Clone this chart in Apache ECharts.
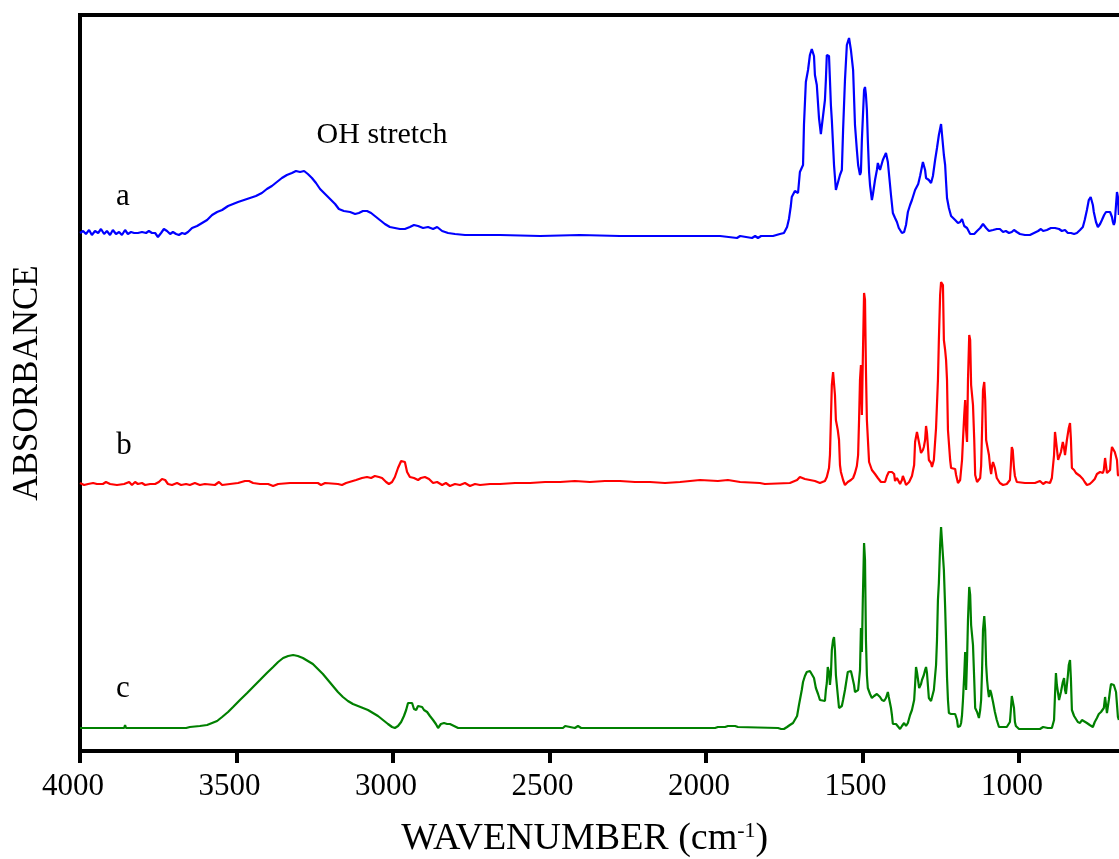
<!DOCTYPE html>
<html>
<head>
<meta charset="utf-8">
<script src="https://cdn.jsdelivr.net/npm/echarts@6/dist/echarts.min.js"></script>
<style>
  html, body { margin: 0; padding: 0; background: #fff; }
  #chart { width: 1119px; height: 859px; }
</style>
</head>
<body>
<div id="chart"></div>
<script>
// FTIR absorbance spectra, [wavenumber (cm-1), absorbance above own baseline]
const spectrumA = [
  [4000,0.03],[3990,0.05],[3981,0.02],[3971,0.06],[3962,0.01],[3952,0.05],[3942,0.03],[3933,0.07],
  [3923,0.02],[3914,0.05],[3904,0.01],[3895,0.06],[3885,0.02],[3875,0.04],[3866,0.01],[3856,0.06],
  [3847,0.02],[3837,0.04],[3827,0.03],[3815,0.03],[3802,0.04],[3789,0.03],[3780,0.05],[3770,0.03],
  [3760,0.03],[3751,-0.01],[3741,0.03],[3732,0.07],[3722,0.05],[3712,0.02],[3703,0.04],[3693,0.02],
  [3684,0.01],[3674,0.03],[3665,0.02],[3655,0.04],[3642,0.08],[3626,0.10],[3610,0.13],[3594,0.16],
  [3578,0.21],[3562,0.24],[3546,0.26],[3527,0.30],[3511,0.32],[3495,0.34],[3476,0.36],[3457,0.38],
  [3438,0.40],[3419,0.43],[3403,0.47],[3387,0.50],[3371,0.54],[3355,0.58],[3339,0.61],[3323,0.63],
  [3310,0.65],[3297,0.64],[3284,0.65],[3272,0.62],[3259,0.58],[3246,0.53],[3233,0.47],[3217,0.42],
  [3201,0.37],[3185,0.32],[3173,0.27],[3157,0.25],[3137,0.24],[3121,0.22],[3109,0.23],[3096,0.25],
  [3083,0.25],[3070,0.23],[3058,0.20],[3042,0.16],[3026,0.12],[3010,0.09],[2994,0.08],[2978,0.07],
  [2962,0.07],[2946,0.09],[2933,0.11],[2920,0.10],[2904,0.08],[2888,0.09],[2872,0.07],[2859,0.09],
  [2843,0.05],[2824,0.03],[2802,0.02],[2770,0.01],[2658,0.01],[2530,0.00],[2403,0.01],[2275,0.00],
  [2147,0.00],[2051,0.00],[2019,0.00],[1955,0.00],[1901,-0.02],[1891,0.00],[1853,-0.02],[1843,0.00],
  [1834,-0.02],[1824,0.00],[1786,0.00],[1764,0.02],[1751,0.03],[1741,0.09],[1735,0.17],[1729,0.30],
  [1726,0.39],[1716,0.45],[1706,0.43],[1700,0.64],[1690,0.71],[1687,1.11],[1681,1.54],[1674,1.66],
  [1668,1.81],[1662,1.87],[1655,1.80],[1652,1.61],[1646,1.51],[1639,1.18],[1633,1.02],[1627,1.02],
  [1620,1.36],[1617,1.56],[1614,1.81],[1607,1.80],[1604,1.56],[1601,1.31],[1598,1.16],[1591,0.71],
  [1585,0.46],[1579,0.45],[1572,0.61],[1566,0.66],[1562,1.06],[1556,1.56],[1550,1.91],[1543,1.98],
  [1540,1.98],[1537,1.86],[1530,1.66],[1524,1.11],[1518,0.86],[1514,0.71],[1508,0.61],[1505,0.64],
  [1502,0.96],[1495,1.46],[1492,1.49],[1489,1.41],[1486,1.26],[1483,0.96],[1479,0.64],[1476,0.51],
  [1470,0.36],[1467,0.41],[1460,0.56],[1454,0.66],[1451,0.73],[1444,0.66],[1441,0.68],[1435,0.76],
  [1425,0.83],[1419,0.74],[1412,0.51],[1409,0.41],[1403,0.23],[1396,0.18],[1390,0.14],[1384,0.08],
  [1374,0.03],[1367,0.04],[1361,0.11],[1355,0.24],[1348,0.31],[1342,0.36],[1332,0.46],[1322,0.52],
  [1316,0.60],[1307,0.74],[1300,0.66],[1297,0.58],[1288,0.56],[1281,0.53],[1275,0.60],[1268,0.76],
  [1262,0.88],[1256,1.01],[1249,1.12],[1246,1.14],[1243,1.10],[1240,0.81],[1236,0.71],[1233,0.54],
  [1230,0.38],[1224,0.28],[1217,0.20],[1211,0.19],[1204,0.16],[1195,0.13],[1188,0.14],[1182,0.17],
  [1175,0.10],[1166,0.08],[1156,0.02],[1143,0.02],[1134,0.05],[1124,0.08],[1115,0.12],[1105,0.08],
  [1096,0.05],[1083,0.06],[1071,0.07],[1061,0.07],[1051,0.04],[1042,0.05],[1032,0.03],[1023,0.04],
  [1016,0.06],[1007,0.04],[997,0.02],[981,0.01],[965,0.01],[952,0.03],[939,0.05],[930,0.07],
  [923,0.05],[911,0.06],[898,0.08],[885,0.08],[872,0.07],[863,0.05],[853,0.06],[844,0.03],
  [834,0.03],[824,0.02],[815,0.03],[805,0.06],[796,0.09],[790,0.16],[783,0.26],[777,0.36],
  [771,0.39],[764,0.31],[761,0.24],[754,0.14],[748,0.09],[741,0.12],[735,0.16],[728,0.21],
  [722,0.24],[716,0.26],[709,0.24],[703,0.19],[700,0.14],[697,0.11],[694,0.14],[690,0.31],
  [687,0.44],[684,0.39],[681,0.21]
];

const spectrumB = [
  [4000,0.01],[3987,-0.01],[3974,0],[3958,0.01],[3946,0],[3927,0],[3917,0.02],[3904,0],
  [3882,-0.01],[3859,0],[3853,-0.02],[3843,0.02],[3834,-0.01],[3824,0.02],[3815,0],[3802,0.01],
  [3792,-0.01],[3776,0],[3760,0],[3748,0.02],[3738,0.05],[3728,0.04],[3719,0],[3706,-0.01],
  [3690,0.01],[3677,-0.01],[3661,0],[3649,-0.01],[3633,0.01],[3617,-0.01],[3601,0],[3569,-0.01],
  [3556,0.02],[3546,-0.01],[3521,0],[3495,0.01],[3473,0.03],[3460,0.03],[3447,0.01],[3425,0],
  [3399,0],[3383,-0.02],[3367,0],[3329,0.01],[3281,0.01],[3240,0.01],[3230,-0.01],[3217,0.01],
  [3176,0],[3163,-0.01],[3150,0.01],[3118,0.04],[3099,0.06],[3083,0.07],[3070,0.06],[3058,0.08],
  [3045,0.07],[3035,0.06],[3022,0.02],[3013,0],[3003,0.02],[2994,0.07],[2984,0.16],[2974,0.23],
  [2968,0.25],[2962,0.22],[2955,0.12],[2946,0.07],[2933,0.06],[2920,0.04],[2911,0.06],[2898,0.07],
  [2885,0.05],[2872,0.01],[2859,0.02],[2843,-0.01],[2831,0.01],[2818,-0.02],[2802,0],[2786,-0.01],
  [2770,0.01],[2754,-0.02],[2738,0],[2722,-0.01],[2690,0],[2658,0],[2610,0.01],[2562,0.01],
  [2514,0.02],[2466,0.02],[2419,0.03],[2371,0.02],[2323,0.03],[2275,0.03],[2227,0.02],[2179,0.02],
  [2131,0.01],[2083,0.02],[2051,0.03],[2019,0.04],[1962,0.03],[1930,0.04],[1891,0.02],[1828,0.01],
  [1812,0],[1732,0.01],[1709,0.04],[1700,0.07],[1684,0.05],[1668,0.04],[1652,0.03],[1636,0.01],
  [1630,0],[1620,0.03],[1614,0.07],[1607,0.16],[1604,0.29],[1601,0.64],[1598,0.99],[1594,1.12],
  [1591,1.14],[1588,0.89],[1585,0.64],[1579,0.54],[1575,0.44],[1572,0.19],[1569,0.12],[1562,0.04],
  [1556,-0.01],[1547,0.02],[1537,0.04],[1530,0.06],[1524,0.11],[1518,0.18],[1514,0.29],[1511,0.64],
  [1508,1.04],[1505,1.19],[1502,0.69],[1499,1.24],[1495,1.91],[1492,1.84],[1489,1.14],[1486,0.64],
  [1479,0.22],[1470,0.14],[1460,0.10],[1451,0.06],[1441,0.02],[1435,0],[1428,0.02],[1422,0.08],
  [1416,0.12],[1406,0.12],[1399,0.10],[1396,0.03],[1390,0.06],[1384,0.06],[1380,0],[1374,0.04],
  [1371,0.08],[1364,0.02],[1361,-0.01],[1351,0.02],[1342,0.08],[1335,0.19],[1332,0.42],[1326,0.52],
  [1322,0.54],[1316,0.36],[1313,0.31],[1307,0.34],[1304,0.37],[1300,0.44],[1297,0.58],[1294,0.51],
  [1288,0.24],[1281,0.21],[1278,0.17],[1272,0.24],[1265,0.56],[1259,1.04],[1256,1.44],[1252,1.89],
  [1249,2.02],[1246,2.02],[1243,1.99],[1240,1.44],[1236,1.34],[1233,1.24],[1230,1.04],[1227,0.54],
  [1220,0.24],[1217,0.16],[1211,0.14],[1204,0.15],[1201,0.09],[1195,0.01],[1188,0.04],[1185,0.06],
  [1182,0.24],[1179,0.44],[1175,0.69],[1172,0.84],[1169,0.54],[1166,0.42],[1163,1.04],[1159,1.49],
  [1156,1.44],[1153,0.99],[1147,0.79],[1143,0.44],[1140,0.09],[1134,0.02],[1131,0],[1124,0.06],
  [1121,0.18],[1118,0.54],[1115,0.94],[1111,1.02],[1108,0.84],[1105,0.44],[1099,0.34],[1096,0.29],
  [1092,0.16],[1089,0.10],[1086,0.18],[1083,0.22],[1080,0.21],[1077,0.16],[1071,0.06],[1061,0.01],
  [1051,-0.01],[1039,0],[1029,0.04],[1026,0.19],[1023,0.37],[1020,0.34],[1016,0.16],[1013,0.08],
  [1007,0.02],[981,0.01],[949,0.01],[933,0.03],[923,0],[914,0.02],[901,0.01],[895,0.06],
  [888,0.29],[885,0.52],[882,0.44],[875,0.24],[872,0.22],[866,0.32],[863,0.34],[860,0.42],
  [856,0.36],[853,0.29],[847,0.44],[841,0.56],[837,0.61],[834,0.44],[831,0.16],[824,0.14],
  [818,0.11],[812,0.10],[805,0.08],[796,0.05],[790,0.02],[783,-0.01],[774,0],[767,0.02],
  [758,0.05],[751,0.10],[741,0.12],[735,0.13],[732,0.11],[729,0.14],[725,0.26],[722,0.24],
  [719,0.11],[713,0.10],[709,0.14],[706,0.29],[703,0.37],[697,0.35],[694,0.32],[687,0.24],
  [684,0.09],[681,0.08]
];

const spectrumC = [
  [4000,0],[3872,0],[3859,0],[3856,0.03],[3853,0],[3712,0],[3661,0],[3649,0.01],
  [3617,0.02],[3594,0.03],[3578,0.05],[3562,0.07],[3546,0.11],[3527,0.16],[3511,0.21],[3489,0.28],
  [3466,0.35],[3444,0.42],[3425,0.48],[3403,0.55],[3383,0.61],[3367,0.66],[3351,0.70],[3335,0.72],
  [3319,0.73],[3304,0.72],[3288,0.70],[3272,0.67],[3256,0.64],[3240,0.59],[3224,0.54],[3208,0.48],
  [3192,0.42],[3176,0.36],[3160,0.31],[3144,0.27],[3128,0.24],[3112,0.22],[3096,0.20],[3080,0.18],
  [3064,0.15],[3048,0.12],[3032,0.08],[3016,0.04],[3003,0.01],[2994,0],[2984,0.02],[2974,0.06],
  [2965,0.12],[2958,0.18],[2952,0.25],[2946,0.27],[2939,0.25],[2933,0.19],[2926,0.18],[2920,0.22],
  [2914,0.23],[2907,0.21],[2901,0.18],[2891,0.16],[2882,0.12],[2872,0.08],[2863,0.04],[2856,0],
  [2847,0.04],[2837,0.05],[2827,0.04],[2818,0.04],[2805,0.02],[2792,0],[2658,0],[2530,0],
  [2457,0],[2450,0.02],[2444,0],[2419,0],[2409,0.02],[2399,0],[2179,0],[2051,0],
  [2045,0.02],[2038,0],[1971,0],[1962,0.01],[1939,0.01],[1930,0.02],[1907,0.02],[1898,0.01],
  [1770,0],[1760,-0.01],[1751,-0.01],[1741,0.01],[1732,0.03],[1722,0.05],[1716,0.07],[1709,0.12],
  [1703,0.23],[1700,0.28],[1694,0.38],[1690,0.46],[1684,0.52],[1678,0.56],[1668,0.57],[1662,0.56],
  [1655,0.50],[1652,0.45],[1649,0.40],[1642,0.34],[1636,0.28],[1630,0.26],[1620,0.27],[1617,0.38],
  [1614,0.45],[1611,0.61],[1607,0.56],[1604,0.43],[1601,0.53],[1598,0.78],[1594,0.88],[1591,0.91],
  [1588,0.78],[1585,0.53],[1579,0.33],[1575,0.20],[1572,0.18],[1566,0.22],[1562,0.28],[1556,0.38],
  [1553,0.44],[1547,0.56],[1543,0.58],[1537,0.57],[1534,0.53],[1527,0.43],[1524,0.36],[1518,0.34],
  [1514,0.38],[1511,0.48],[1508,0.58],[1505,1.00],[1502,0.76],[1499,1.28],[1495,1.85],[1492,1.68],
  [1489,0.88],[1486,0.53],[1483,0.40],[1476,0.34],[1470,0.30],[1463,0.32],[1454,0.34],[1448,0.36],
  [1444,0.31],[1438,0.28],[1431,0.27],[1425,0.30],[1419,0.36],[1416,0.31],[1409,0.20],[1406,0.13],
  [1403,0.04],[1393,0.04],[1387,0.02],[1380,-0.01],[1374,0.02],[1367,0.05],[1361,0.02],[1355,0.05],
  [1348,0.13],[1342,0.18],[1335,0.28],[1332,0.43],[1329,0.61],[1326,0.56],[1319,0.40],[1313,0.44],
  [1310,0.48],[1304,0.53],[1300,0.58],[1297,0.61],[1294,0.55],[1288,0.30],[1281,0.27],[1278,0.26],
  [1272,0.38],[1265,0.63],[1262,0.88],[1259,1.28],[1256,1.45],[1252,1.83],[1249,2.01],[1246,2.01],
  [1243,2.00],[1240,1.58],[1236,1.21],[1233,0.88],[1230,0.51],[1227,0.28],[1224,0.15],[1217,0.14],
  [1211,0.12],[1204,0.14],[1198,0.08],[1195,0.01],[1188,0.02],[1185,0.05],[1182,0.13],[1179,0.28],
  [1175,0.53],[1172,0.76],[1169,0.38],[1166,0.68],[1163,1.08],[1159,1.41],[1156,1.33],[1153,1.03],
  [1150,0.93],[1147,0.83],[1143,0.48],[1140,0.20],[1134,0.16],[1128,0.10],[1124,0.18],[1121,0.28],
  [1118,0.58],[1115,0.98],[1111,1.12],[1108,0.98],[1105,0.63],[1102,0.48],[1099,0.38],[1096,0.31],
  [1092,0.38],[1089,0.35],[1083,0.26],[1077,0.16],[1071,0.08],[1064,0.01],[1051,0.01],[1039,0.01],
  [1029,0.06],[1026,0.18],[1023,0.32],[1020,0.34],[1016,0.20],[1013,0.06],[1010,0.02],[1000,-0.01],
  [965,-0.01],[933,-0.01],[923,0.01],[917,0.02],[908,0],[895,0],[888,0.08],[885,0.33],
  [882,0.55],[879,0.43],[872,0.28],[866,0.36],[860,0.46],[856,0.50],[853,0.38],[850,0.34],
  [844,0.52],[841,0.63],[837,0.68],[834,0.48],[831,0.18],[824,0.12],[818,0.10],[812,0.06],
  [805,0.05],[799,0.08],[793,0.06],[783,0.05],[774,0.03],[764,0.01],[758,0.06],[751,0.10],
  [745,0.14],[738,0.16],[732,0.16],[729,0.20],[725,0.31],[722,0.30],[719,0.15],[716,0.16],
  [713,0.28],[709,0.38],[706,0.44],[703,0.46],[697,0.43],[690,0.36],[684,0.11],[681,0.08]
];

// vertical offsets that stack the three traces
const traceNames = ['a', 'b', 'c'];
const traceOffsets = [5.15, 2.67, 0.23];
const traceColors = ['#0000ff', '#ff0000', '#008000'];
const traceData = [spectrumA, spectrumB, spectrumC];

const xTicks = [4000, 3500, 3000, 2500, 2000, 1500, 1000];

const serifFont = '"Liberation Serif", "Times New Roman", Times, serif';

const chart = echarts.init(document.getElementById('chart'));

const series = traceData.map((spec, i) => ({
  name: traceNames[i],
  type: 'line',
  showSymbol: false,
  symbol: 'none',
  smooth: false,
  clip: true,
  lineStyle: { color: traceColors[i], width: 2.2 },
  itemStyle: { color: traceColors[i] },
  data: spec.map(([w, v]) => [w, +(v + traceOffsets[i]).toFixed(3)])
}));

chart.setOption({
  animation: false,
  backgroundColor: '#fff',
  grid: {
    left: 80, top: 15, width: 1095.5, height: 736,
    outerBoundsMode: 'none',
    containLabel: false,
    show: true, borderColor: '#000', borderWidth: 4, backgroundColor: 'transparent'
  },
  xAxis: {
    type: 'value',
    inverse: true,
    min: 500,
    max: 4000,
    interval: 500,
    axisLine: { show: false },
    axisTick: { show: true, length: 12, lineStyle: { color: '#000', width: 4 } },
    splitLine: { show: false },
    axisLabel: {
      margin: 20,
      color: '#000',
      fontFamily: serifFont,
      fontSize: 31,
      padding: [0, 14, 0, 0],
      formatter: v => (xTicks.indexOf(v) >= 0 ? String(v) : '')
    },
    name: 'WAVENUMBER (cm{sup|-1})',
    nameLocation: 'middle',
    nameGap: 69,
    nameTextStyle: {
      color: '#000',
      fontFamily: serifFont,
      fontSize: 38,
      padding: [0, 86, 0, 0],
      rich: {
        sup: { fontFamily: serifFont, fontSize: 22, color: '#000', verticalAlign: 'top', padding: [0, 0, 15, 0] }
      }
    }
  },
  yAxis: {
    type: 'value',
    min: 0,
    max: 7.36,
    axisLine: { show: false },
    axisTick: { show: false },
    axisLabel: { show: false },
    splitLine: { show: false },
    name: 'ABSORBANCE',
    nameLocation: 'middle',
    nameGap: 35,
    nameTextStyle: { color: '#000', fontFamily: serifFont, fontSize: 35 }
  },
  graphic: [
    { type: 'text', x: 123, y: 197, style: { text: 'a', font: '31px ' + serifFont, fill: '#000', align: 'center', verticalAlign: 'middle' } },
    { type: 'text', x: 124, y: 446, style: { text: 'b', font: '31px ' + serifFont, fill: '#000', align: 'center', verticalAlign: 'middle' } },
    { type: 'text', x: 123, y: 689, style: { text: 'c', font: '31px ' + serifFont, fill: '#000', align: 'center', verticalAlign: 'middle' } },
    { type: 'text', x: 382, y: 135, style: { text: 'OH stretch', font: '30px ' + serifFont, fill: '#000', align: 'center', verticalAlign: 'middle' } }
  ],
  series: series
});
</script>
</body>
</html>
